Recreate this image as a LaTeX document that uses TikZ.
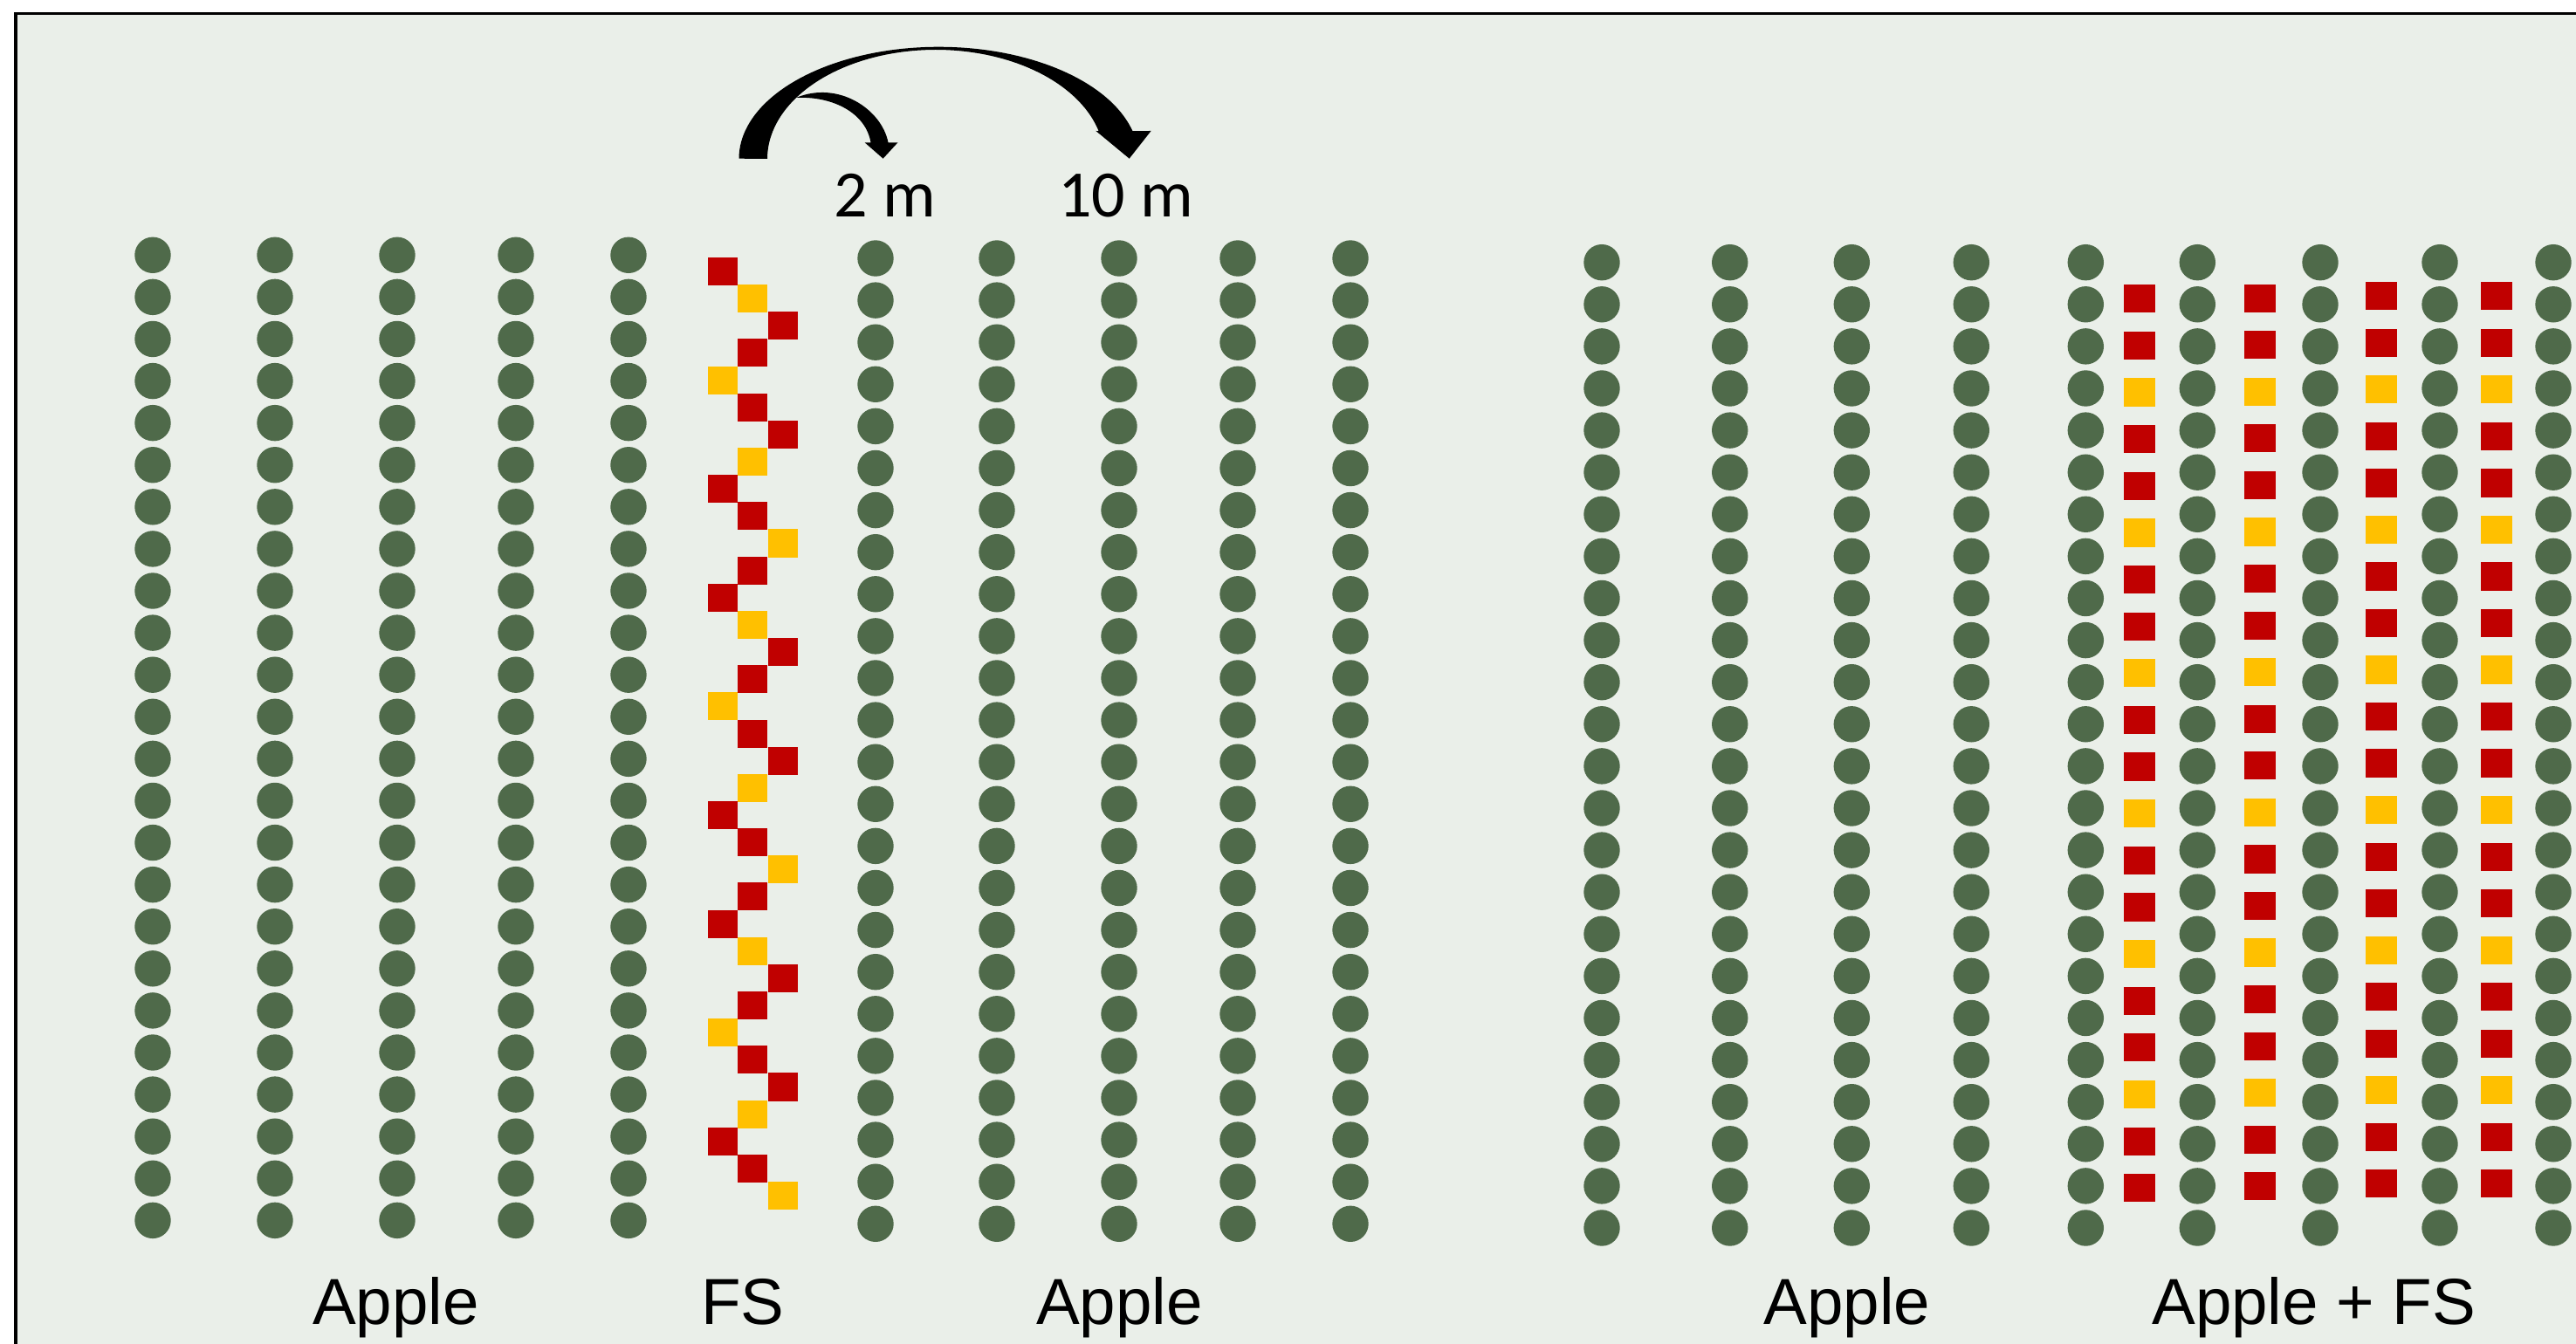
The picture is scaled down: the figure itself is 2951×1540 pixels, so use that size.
\documentclass[tikz,border=0pt]{standalone}
\usepackage{fontspec}
\setmainfont{Liberation Sans}
\newfontfamily\calfont{Carlito}
\definecolor{bgc}{RGB}{234,239,233}
\definecolor{treegreen}{RGB}{79,106,74}
\definecolor{fsred}{RGB}{192,0,0}
\definecolor{fsyellow}{RGB}{255,192,0}
\tikzset{
  tree/.style={circle, fill=treegreen, draw=none, inner sep=0pt, minimum size=0.414cm},
  fsbox/.style={rectangle, draw=none, inner sep=0pt, minimum width=0.345cm, minimum height=0.32cm},
  rbox/.style={rectangle, draw=none, inner sep=0pt, minimum width=0.36cm, minimum height=0.322cm},
  lab/.style={inner sep=0pt, anchor=base, font=\fontsize{21.2pt}{25pt}\selectfont},
  dist/.style={inner sep=0pt, anchor=base, font=\calfont\fontsize{21.6pt}{26pt}\selectfont}
}
\begin{document}
\begin{tikzpicture}[x=0.01cm, y=-0.01cm]
\useasboundingbox (0,0) rectangle (2951,1540);
\fill[white] (0,0) rectangle (2951,1540);
\fill[bgc] (18,16) rectangle (2951,1540);
\draw[line width=0.03cm] (18,1540) -- (18,16) -- (2951,16);

% left orchard: apple rows
\foreach \cx in {175,315,455,591,720}{
  \foreach \r in {0,...,23}{
    \node[tree] (la-\cx-\r) at (\cx,{292.3+48.09*\r}) {};
  }
}
\foreach \cx in {1003,1142,1282,1418,1547}{
  \foreach \r in {0,...,23}{
    \node[tree] (lb-\cx-\r) at (\cx,{296+48.1*\r}) {};
  }
}
% FS zigzag strip
\foreach \i in {0,...,34}{
  \pgfmathtruncatemacro\m{mod(\i,4)}
  \pgfmathsetmacro\xx{ifthenelse(\m==0,828,ifthenelse(\m==2,897,862))}
  \pgfmathtruncatemacro\c{mod(\i,3)}
  \ifnum\c=1 \def\col{fsyellow}\else\def\col{fsred}\fi
  \node[fsbox, fill=\col] (fs-\i) at (\xx,{311+31.15*\i}) {};
}

% right orchard: apple rows
\foreach \cx in {1835,1981.7,2121.3,2258.3,2389.3,2517.3,2658,2795,2925}{
  \foreach \r in {0,...,23}{
    \node[tree] (ra-\cx-\r) at (\cx,{300.7+48.1*\r}) {};
  }
}
% FS rows between apple rows
\foreach \k/\cx/\sy/\st in {1/2451/342.3/53.63, 2/2589/341.7/53.56, 3/2728/339.3/53.53, 4/2860/339.3/53.53}{
  \foreach \i in {0,...,19}{
    \pgfmathtruncatemacro\c{mod(\i,3)}
    \ifnum\c=2 \def\col{fsyellow}\else\def\col{fsred}\fi
    \node[rbox, fill=\col] (rb-\k-\i) at (\cx,{\sy+\st*\i}) {};
  }
}

% curved arrows
\fill[black] plot[domain=180:14.3, samples=80, variable=\t] ({1075.5+229*cos(\t)},{181.7-128*sin(\t)})
  -- (1318.6,150) -- (1293.7,181.7) -- (1255.4,150)
  -- plot[domain=14.8:180, samples=80, variable=\t] ({1072+193*cos(\t)},{182-125*sin(\t)}) -- cycle;
\fill[black] (912,112) .. controls (960,92) and (1010,125) .. (1017.5,163.3)
  -- (1028.5,163.3) -- (1011.6,181.7) -- (990.6,163.3) -- (997.5,163.3)
  .. controls (992,130) and (955,110) .. (912,112) -- cycle;

\node[dist] (d2) at (1013.7,248.3) {2 m};
\node[dist] (d10) at (1289.6,248.3) {10 m};

% labels
\node[lab] (l1) at (453.5,1517) {Apple};
\node[lab] (l2) at (851,1517) {FS};
\node[lab] (l3) at (1282.5,1517) {Apple};
\node[lab] (l4) at (2116,1517) {Apple};
\node[lab] (l5) at (2650.7,1517) {Apple + FS};
\end{tikzpicture}
\end{document}
